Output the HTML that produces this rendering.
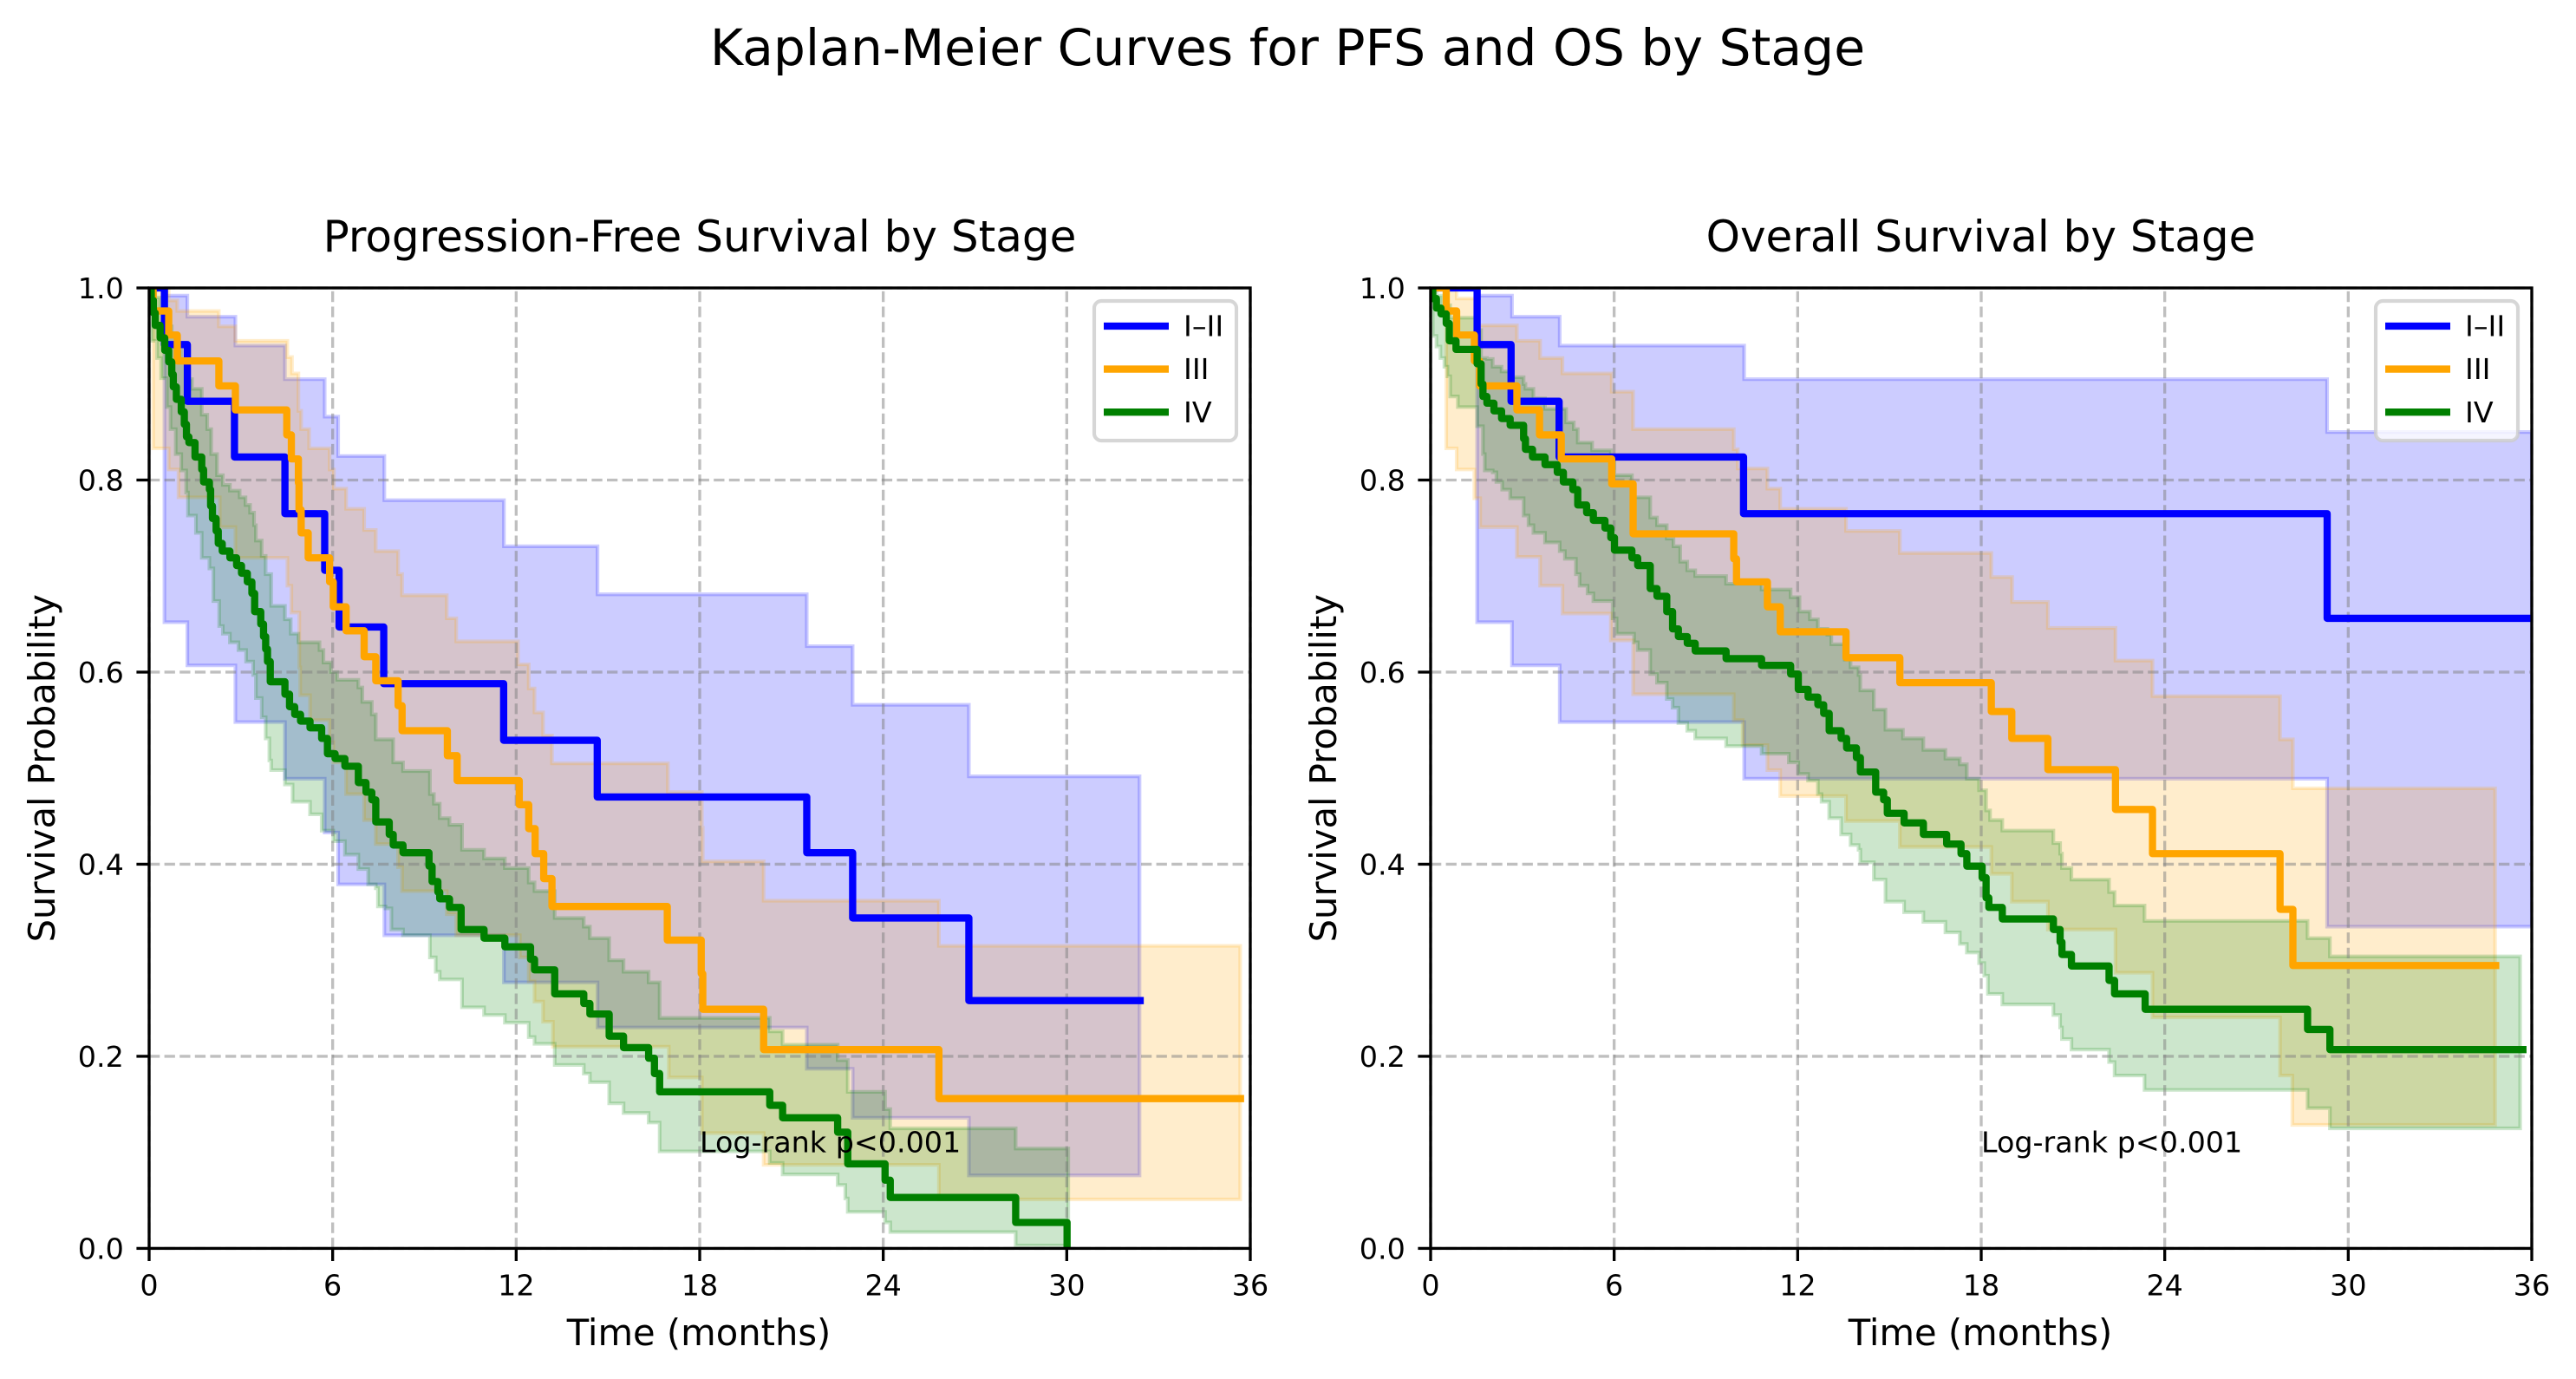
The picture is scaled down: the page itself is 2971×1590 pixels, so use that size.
<!DOCTYPE html>
<html lang="en">
<head>
<meta charset="utf-8">
<title>Kaplan-Meier Curves for PFS and OS by Stage</title>
<style>
html,body{margin:0;padding:0;background:#fff;width:2971px;height:1590px;overflow:hidden}
svg{display:block}
text{font-family:"DejaVu Sans","Liberation Sans",sans-serif;fill:#000}
</style>
</head>
<body>
<svg id="chart" xmlns="http://www.w3.org/2000/svg" width="2971" height="1590" viewBox="0 0 2971 1590">
  <rect x="0" y="0" width="2971" height="1590" fill="#fff"/>
  <text x="1485" y="75" font-size="58.33" text-anchor="middle">Kaplan-Meier Curves for PFS and OS by Stage</text>
  <text x="807" y="290" font-size="50" text-anchor="middle">Progression-Free Survival by Stage</text>
  <text x="2284.5" y="290" font-size="50" text-anchor="middle">Overall Survival by Stage</text>
  <defs>
    <clipPath id="clip-pfs"><rect x="172" y="332" width="1270" height="1107.4"/></clipPath>
    <clipPath id="clip-os"><rect x="1650" y="332" width="1270" height="1107.4"/></clipPath>
  </defs>
  <g id="panel-pfs"></g>
  <g id="panel-os"></g>
</svg>
<script>
// Shared axis labels and ticks
const xTickValues = [0, 6, 12, 18, 24, 30, 36];
const yTickValues = [0.0, 0.2, 0.4, 0.6, 0.8, 1.0];
const yTickLabels = ['0.0', '0.2', '0.4', '0.6', '0.8', '1.0'];
const stageNames = ['I\u2013II', 'III', 'IV'];
const annotationText = 'Log-rank p<0.001';
const annotationTime = 18;
const annotationSurvival = 0.1;

// PFS stage I-II
const pfsEarlyTime = [0,.50,1.25,2.79,4.44,5.74,6.21,7.67,11.59,14.65,21.5,23.0,26.8,32.4];
const pfsEarlySurv = [1,.941,.882,.824,.765,.706,.647,.588,.529,.47,.412,.344,.258,.258];
const pfsEarlyBandTime = [0,.50,1.25,2.82,4.44,5.74,6.18,7.69,11.6,14.66,21.5,23.0,26.8,32.38];
const pfsEarlyUpper = [1,.992,.97,.94,.905,.866,.825,.779,.731,.681,.627,.566,.4915,.4915];
const pfsEarlyLower = [1,.652,.607,.548,.489,.433,.379,.326,.277,.23,.187,.136,.076,.076];

// PFS stage III
const pfsMidTime = [0,.13,.64,.92,2.28,2.82,4.50,4.65,4.88,4.90,4.97,5.20,5.90,6.02,6.44,7.03,7.41,8.14,8.27,9.75,10.07,12.10,12.41,12.62,12.90,13.17,16.94,18.05,18.10,20.09,25.82,35.68];
const pfsMidSurv = [1,.976,.951,.924,.898,.873,.847,.822,.797,.769,.745,.719,.694,.668,.643,.616,.591,.565,.539,.513,.487,.462,.437,.411,.385,.356,.321,.286,.249,.207,.156,.156];
const pfsMidUpperTime = [0,.64,.92,2.28,2.82,4.52,4.67,4.88,4.97,5.23,5.90,6.04,6.44,7.03,7.41,8.14,8.27,9.73,10.04,12.06,12.41,12.60,12.88,13.17,16.96,18.07,18.10,20.09,25.82,35.67];
const pfsMidUpper = [1,.987,.976,.96,.945,.928,.911,.872,.853,.833,.811,.791,.77,.748,.726,.702,.68,.656,.632,.608,.583,.558,.534,.505,.475,.438,.403,.362,.315,.315];
const pfsMidLowerTime = [0,.13,.64,.96,2.31,2.82,4.52,4.65,4.91,4.94,5.26,5.89,6.02,6.44,7.03,7.41,8.14,8.27,9.73,10.04,12.12,12.41,12.60,12.88,13.20,16.99,18.07,20.09,25.82,35.67];
const pfsMidLower = [1,.833,.811,.782,.751,.719,.69,.662,.605,.576,.55,.527,.506,.473,.446,.421,.397,.372,.348,.326,.303,.278,.257,.236,.21,.178,.12,.087,.051,.051];

// PFS stage IV
const pfsLateTime = [0,.07,.14,.20,.36,.51,.64,.74,.79,.89,1.05,1.15,1.22,1.30,1.50,1.72,1.78,1.97,2.01,2.07,2.19,2.26,2.39,2.64,2.86,3.02,3.21,3.36,3.45,3.65,3.74,3.81,3.87,3.96,4.44,4.59,4.76,4.95,5.26,5.64,5.83,6.08,6.40,6.84,7.09,7.28,7.41,7.85,7.98,8.30,9.15,9.25,9.44,9.50,9.82,10.20,10.95,11.63,12.47,12.60,13.26,14.21,14.41,15.04,15.51,16.33,16.52,16.69,20.29,20.71,22.51,22.84,24.06,24.23,28.33,30.01];
const pfsLateSurv = [1,.987,.974,.961,.948,.935,.923,.910,.897,.884,.871,.858,.845,.839,.824,.811,.798,.790,.773,.760,.747,.734,.726,.719,.711,.703,.694,.682,.663,.650,.637,.624,.611,.590,.577,.564,.556,.549,.542,.531,.515,.510,.502,.485,.475,.467,.444,.431,.420,.412,.398,.382,.371,.364,.355,.332,.323,.314,.301,.290,.265,.255,.244,.221,.209,.198,.182,.163,.149,.136,.121,.088,.071,.053,.027,0];
const pfsLateUpperTime = [0,.07,.20,.36,.51,.64,.74,.89,1.05,1.22,1.40,1.72,1.90,2.03,2.22,2.41,2.64,2.96,3.15,3.30,3.43,3.49,3.68,3.81,3.99,4.44,4.63,4.88,5.57,5.70,5.95,6.15,6.84,6.97,7.28,7.41,7.98,8.30,9.18,9.31,9.50,9.82,10.23,10.95,11.63,12.41,12.60,13.26,14.21,14.41,15.04,15.51,16.33,16.69,20.29,20.71,22.51,22.84,24.06,24.23,28.33,30.05];
const pfsLateUpper = [1,.999,.99,.98,.97,.96,.95,.935,.925,.905,.895,.868,.853,.827,.805,.795,.789,.782,.774,.766,.753,.737,.721,.702,.669,.655,.640,.631,.623,.610,.600,.592,.584,.569,.556,.530,.506,.497,.473,.463,.448,.441,.415,.406,.396,.381,.372,.344,.335,.323,.300,.288,.277,.240,.226,.212,.196,.163,.145,.125,.104,.104];
const pfsLateLowerTime = [0,.07,.26,.39,.58,.70,.87,1.05,1.21,1.27,1.53,1.72,1.97,2.10,2.29,2.41,2.64,2.92,3.17,3.40,3.49,3.68,3.81,3.93,3.99,4.44,4.69,5.26,5.64,6.02,6.40,6.84,7.16,7.41,7.48,7.73,7.92,8.30,9.18,9.37,9.50,10.23,10.95,11.63,12.41,12.60,13.26,14.21,14.41,15.04,15.51,16.33,16.69,20.29,20.71,22.51,22.76,22.84,24.06,24.23,28.33,30.05];
const pfsLateLower = [1,.945,.927,.906,.876,.853,.827,.810,.787,.763,.745,.719,.708,.674,.648,.640,.631,.623,.611,.597,.573,.553,.531,.508,.498,.483,.465,.452,.435,.424,.410,.395,.379,.375,.356,.354,.332,.326,.303,.288,.280,.251,.243,.235,.220,.213,.191,.182,.173,.151,.141,.131,.101,.089,.077,.066,.052,.038,.027,.017,.003,.003];

// OS stage I-II
const osEarlyTime = [0,1.52,2.63,4.20,10.23,29.31,36];
const osEarlySurv = [1,.941,.882,.824,.765,.656,.656];
const osEarlyBandTime = [0,1.52,2.66,4.22,10.25,29.31,36];
const osEarlyUpper = [1,.992,.97,.94,.905,.85,.85];
const osEarlyLower = [1,.652,.607,.548,.489,.335,.335];

// OS stage III
const osMidTime = [0,.51,.85,1.43,1.60,2.82,3.56,4.27,5.92,6.62,9.91,10.0,11.01,11.43,13.58,15.34,18.33,19.0,20.18,22.39,23.6,27.77,28.19,34.82];
const osMidSurv = [1,.976,.951,.924,.898,.873,.847,.822,.796,.744,.718,.694,.668,.642,.615,.589,.559,.531,.4985,.457,.411,.353,.2945,.2945];
const osMidUpperTime = [0,.85,1.46,2.82,3.58,4.31,5.92,6.62,9.91,10.04,11.01,11.43,13.58,15.34,18.33,19.01,20.18,22.39,23.6,27.77,28.19,34.8];
const osMidUpper = [1,.989,.961,.945,.927,.911,.892,.853,.832,.812,.791,.77,.747,.724,.699,.673,.646,.612,.575,.53,.479,.479];
const osMidLowerTime = [0,.51,.85,1.43,1.62,2.82,3.58,4.31,5.89,6.62,9.91,10.2,11.01,11.43,13.58,15.34,18.33,19.0,20.18,22.39,23.6,27.77,28.17,34.8];
const osMidLower = [1,.833,.811,.781,.751,.72,.69,.661,.633,.577,.55,.524,.498,.471,.445,.418,.39,.361,.332,.287,.2405,.18,.1286,.1286];

// OS stage IV
const osLateTime = [0,.07,.19,.34,.51,.61,.83,1.52,1.65,1.71,1.84,2.07,2.32,2.60,3.04,3.10,3.33,3.74,4.14,4.34,4.65,4.81,5.10,5.32,5.70,5.89,6.01,6.58,6.77,7.18,7.40,7.72,7.91,8.10,8.39,8.65,9.66,10.82,11.77,12.02,12.34,12.66,12.85,13.03,13.42,13.60,13.92,14.05,14.55,14.81,14.93,15.48,16.11,16.87,17.34,17.53,18.03,18.16,18.25,18.69,20.36,20.58,20.64,20.95,22.18,22.36,23.36,28.67,29.40,35.71];
const osLateSurv = [1,.989,.979,.973,.963,.945,.936,.921,.900,.887,.880,.872,.864,.857,.843,.832,.824,.816,.808,.798,.790,.774,.766,.758,.750,.740,.727,.719,.711,.687,.679,.663,.645,.637,.630,.622,.614,.607,.598,.582,.574,.566,.557,.539,.531,.521,.511,.496,.475,.467,.453,.443,.431,.421,.411,.398,.386,.365,.355,.343,.332,.319,.306,.294,.279,.265,.249,.228,.207,.207];
const osLateUpperTime = [0,.07,.19,.38,.64,1.52,1.65,1.84,2.03,2.32,2.60,3.04,3.10,3.36,3.74,4.43,4.68,4.81,5.28,5.89,6.01,6.58,7.18,7.40,7.72,7.94,8.16,8.39,8.65,9.66,10.82,11.77,12.06,12.40,12.66,12.97,13.10,13.54,13.73,13.99,14.05,14.49,14.87,15.44,16.11,16.83,17.30,17.53,17.93,18.16,18.29,18.69,20.36,20.58,20.64,20.95,22.18,22.36,23.34,28.67,29.40,35.62];
const osLateUpper = [1,.998,.992,.982,.969,.956,.927,.926,.918,.913,.907,.900,.895,.885,.874,.860,.853,.839,.831,.821,.805,.782,.761,.753,.739,.731,.715,.706,.700,.692,.686,.678,.663,.655,.645,.639,.629,.613,.605,.597,.581,.561,.540,.531,.519,.510,.504,.489,.477,.456,.446,.435,.422,.411,.396,.384,.371,.357,.341,.323,.304,.304];
const osLateLowerTime = [0,.07,.19,.32,.45,.55,.64,.89,1.52,1.71,1.77,2.03,2.15,2.34,2.60,3.04,3.20,3.36,3.74,4.22,4.39,4.75,4.87,5.13,5.32,5.95,6.08,6.65,6.77,7.18,7.40,7.72,7.91,8.10,8.39,8.65,9.66,10.82,11.71,12.02,12.34,12.66,12.78,13.03,13.42,13.73,13.99,14.05,14.49,14.87,15.48,16.11,16.83,17.30,17.53,17.93,18.10,18.22,18.69,20.36,20.58,20.64,20.95,22.18,22.36,23.34,28.67,29.40,35.62];
const osLateLower = [1,.950,.939,.927,.918,.908,.887,.876,.856,.827,.810,.808,.798,.790,.781,.763,.753,.745,.735,.726,.718,.702,.690,.682,.674,.656,.640,.631,.623,.598,.589,.572,.563,.547,.539,.531,.523,.515,.506,.494,.487,.473,.465,.448,.431,.420,.415,.402,.384,.361,.350,.340,.329,.317,.308,.297,.284,.265,.254,.243,.230,.218,.207,.194,.180,.165,.146,.125,.125];

const svgNS = 'http://www.w3.org/2000/svg';
const plotTop = 332;
const plotBottom = 1439.4;
const plotWidth = 1270;
const maxMonths = 36;

function yScale(s) { return plotBottom - s * (plotBottom - plotTop); }
function xScaleFor(left) { return function (t) { return left + t / maxMonths * plotWidth; }; }

function make(tag, parent, attrs) {
  const el = document.createElementNS(svgNS, tag);
  for (const k in attrs) el.setAttribute(k, attrs[k]);
  parent.appendChild(el);
  return el;
}
function stepPoints(times, values, xs) {
  const pts = [];
  const n = Math.min(times.length, values.length);
  for (let i = 0; i < n; i++) {
    if (i > 0) pts.push([xs(times[i]), yScale(values[i - 1])]);
    pts.push([xs(times[i]), yScale(values[i])]);
  }
  return pts;
}
function toPath(pts) {
  return 'M' + pts.map(function (p) { return p[0].toFixed(2) + ' ' + p[1].toFixed(2); }).join('L');
}

function drawPanel(cfg) {
  const root = document.getElementById(cfg.rootId);
  const xs = xScaleFor(cfg.left);
  const right = cfg.left + plotWidth;

  // confidence bands
  const bands = make('g', root, { 'clip-path': 'url(#' + cfg.clip + ')' });
  
  
  cfg.series.forEach(function (s, i) {
    const up = stepPoints(s.upperTime, s.upper, xs);
    const lo = stepPoints(s.lowerTime, s.lower, xs).reverse();
    const band = make('path', bands, {
      d: toPath(up.concat(lo)) + 'Z',
      fill: s.color, 'fill-opacity': 0.2,
      stroke: s.color, 'stroke-opacity': 0.2, 'stroke-width': 4.17, 'stroke-linejoin': 'miter'
    });
    
    
  });

  // grid
  const grid = make('g', root, { stroke: '#808080', 'stroke-opacity': 0.5, 'stroke-width': 3.33, 'stroke-dasharray': '12.3 5.3', fill: 'none' });
  
  
  xTickValues.forEach(function (t) {
    const g = make('line', grid, { x1: xs(t), x2: xs(t), y1: plotBottom, y2: plotTop });
    
    
  });
  yTickValues.forEach(function (v) {
    const g = make('line', grid, { x1: cfg.left, x2: right, y1: yScale(v), y2: yScale(v) });
    
    
  });

  // survival curves
  const curves = make('g', root, { 'clip-path': 'url(#' + cfg.clip + ')' });
  
  
  cfg.series.forEach(function (s) {
    const line = make('path', curves, {
      d: toPath(stepPoints(s.time, s.surv, xs)),
      fill: 'none', stroke: s.color, 'stroke-width': 8.33,
      'stroke-linejoin': 'round', 'stroke-linecap': 'square'
    });
    
    
  });

  // spines
  const frame = make('rect', root, { x: cfg.left, y: plotTop, width: plotWidth, height: plotBottom - plotTop, fill: 'none', stroke: '#000', 'stroke-width': 3.33 });
  
  

  // x ticks
  xTickValues.forEach(function (t) {
    const tick = make('line', root, { x1: xs(t), x2: xs(t), y1: plotBottom, y2: plotBottom + 14.6, stroke: '#000', 'stroke-width': 3.33 });
    
    
    const lab = make('text', root, { x: xs(t), y: 1493.5, 'font-size': 33.33, 'text-anchor': 'middle' });
    lab.textContent = String(t);
    
    
  });
  // y ticks
  yTickValues.forEach(function (v, i) {
    const tick = make('line', root, { x1: cfg.left - 14.6, x2: cfg.left, y1: yScale(v), y2: yScale(v), stroke: '#000', 'stroke-width': 3.33 });
    
    
    const lab = make('text', root, { x: cfg.left - 29.2, y: yScale(v) + 12.2, 'font-size': 33.33, 'text-anchor': 'end' });
    lab.textContent = yTickLabels[i];
    
    
  });

  // axis titles
  const xTitle = make('text', root, { x: cfg.left + plotWidth / 2 - 1, y: 1551, 'font-size': 41.67, 'text-anchor': 'middle' });
  xTitle.textContent = 'Time (months)';
  
  
  const yLabX = cfg.left - 109;
  const yTitle = make('text', root, { x: yLabX, y: (plotTop + plotBottom) / 2, 'font-size': 41.67, 'text-anchor': 'middle', transform: 'rotate(-90 ' + yLabX + ' ' + (plotTop + plotBottom) / 2 + ')' });
  yTitle.textContent = 'Survival Probability';
  
  

  // annotation
  const note = make('text', root, { x: xs(annotationTime), y: yScale(annotationSurvival), 'font-size': 33.33 });
  note.textContent = annotationText;
  
  

  // legend
  const legend = make('g', root, {});
  
  
  const legX = right - 180;
  const box = make('rect', legend, { x: legX, y: 347, width: 164, height: 161, rx: 8.3, ry: 8.3, fill: '#fff', 'fill-opacity': 0.8, stroke: '#ccc', 'stroke-opacity': 0.8, 'stroke-width': 4.17 });
  
  
  cfg.series.forEach(function (s, i) {
    const yy = 376 + i * 49.6;
    const sw = make('line', legend, { x1: legX + 11, x2: legX + 86, y1: yy, y2: yy, stroke: s.color, 'stroke-width': 8.33 });
    
    
    const tx = make('text', legend, { x: legX + 103, y: yy + 11.6, 'font-size': 33.33 });
    tx.textContent = stageNames[i];
    
    
  });
}

drawPanel({
  key: 'pfs', rootId: 'panel-pfs', clip: 'clip-pfs', left: 172,
  series: [
    { slug: 'i-ii', color: '#0000ff', time: pfsEarlyTime, surv: pfsEarlySurv, upperTime: pfsEarlyBandTime, upper: pfsEarlyUpper, lowerTime: pfsEarlyBandTime, lower: pfsEarlyLower },
    { slug: 'iii', color: '#ffa500', time: pfsMidTime, surv: pfsMidSurv, upperTime: pfsMidUpperTime, upper: pfsMidUpper, lowerTime: pfsMidLowerTime, lower: pfsMidLower },
    { slug: 'iv', color: '#008000', time: pfsLateTime, surv: pfsLateSurv, upperTime: pfsLateUpperTime, upper: pfsLateUpper, lowerTime: pfsLateLowerTime, lower: pfsLateLower }
  ]
});
drawPanel({
  key: 'os', rootId: 'panel-os', clip: 'clip-os', left: 1650,
  series: [
    { slug: 'i-ii', color: '#0000ff', time: osEarlyTime, surv: osEarlySurv, upperTime: osEarlyBandTime, upper: osEarlyUpper, lowerTime: osEarlyBandTime, lower: osEarlyLower },
    { slug: 'iii', color: '#ffa500', time: osMidTime, surv: osMidSurv, upperTime: osMidUpperTime, upper: osMidUpper, lowerTime: osMidLowerTime, lower: osMidLower },
    { slug: 'iv', color: '#008000', time: osLateTime, surv: osLateSurv, upperTime: osLateUpperTime, upper: osLateUpper, lowerTime: osLateLowerTime, lower: osLateLower }
  ]
});
</script>
</body>
</html>
